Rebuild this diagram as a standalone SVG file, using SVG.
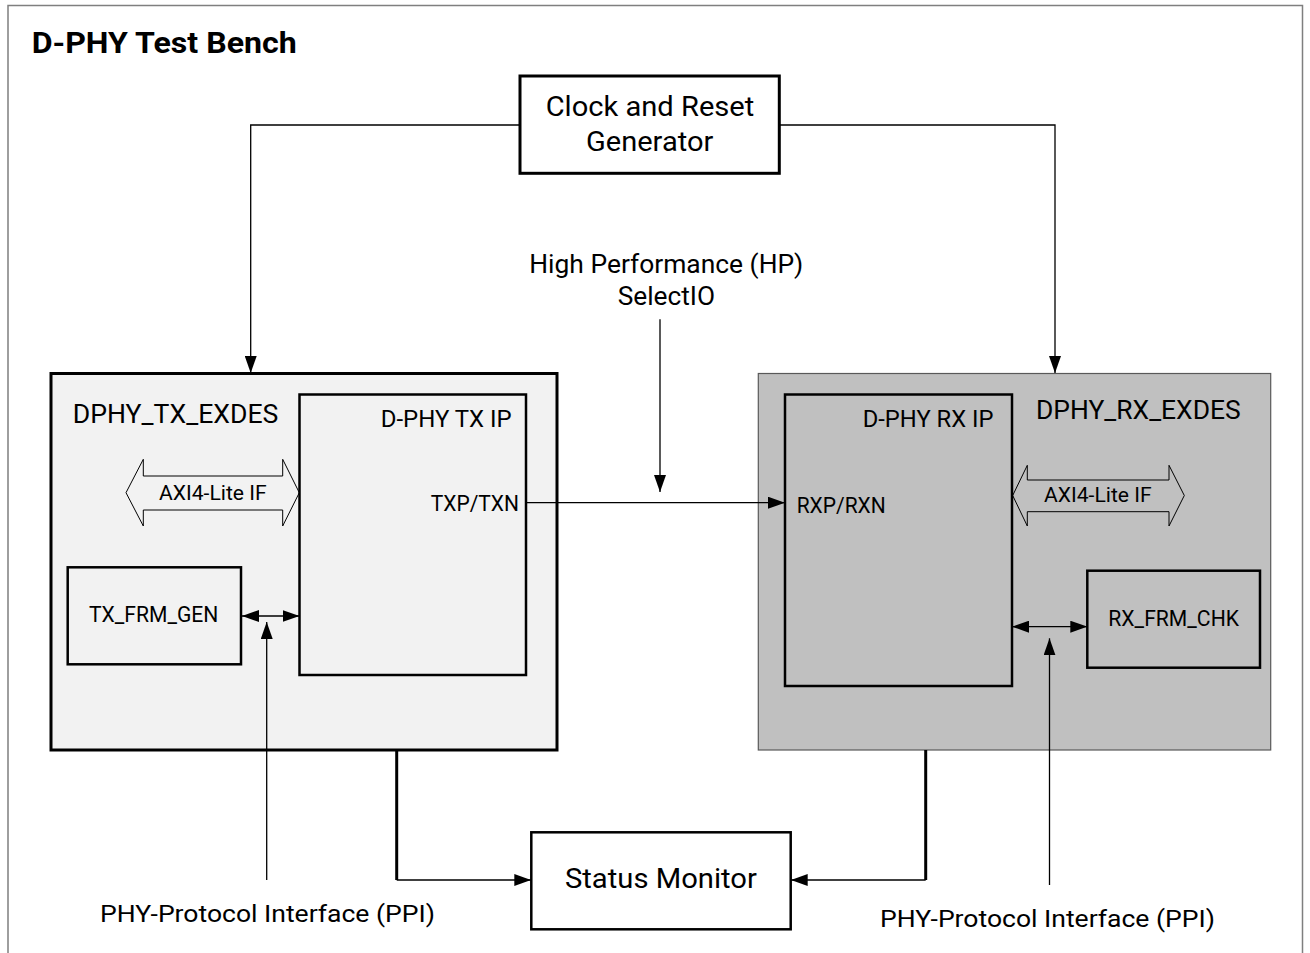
<svg xmlns="http://www.w3.org/2000/svg" width="1310" height="953" viewBox="0 0 1310 953">
<style>
text{font-family:Roboto,"Liberation Sans",sans-serif;fill:#000}
.blk{fill:#fff;stroke:#000;stroke-width:3}
.thin{fill:none;stroke:#000;stroke-width:1.3}
.thick{fill:none;stroke:#000;stroke-width:3}
.bus{fill:none;stroke:#000;stroke-width:1}
.t28{font-size:28.5px}
.t26{font-size:26px}
.t24{font-size:24.4px}
.t22{font-size:22px}
.t21{font-size:21px}
</style>
<defs>
<marker id="ah" markerUnits="userSpaceOnUse" markerWidth="17" markerHeight="12" refX="17" refY="6" orient="auto-start-reverse">
<path d="M0,0 L17,6 L0,12 z" fill="#000"/>
</marker>
</defs>
<rect width="1310" height="953" fill="#fff"/>
<path d="M8,953 V5.5 H1302.5 V953" fill="none" stroke="#7f7f7f" stroke-width="1.5"/>
<text x="31.7" y="53.3" font-size="29.5" font-weight="bold" textLength="265" lengthAdjust="spacingAndGlyphs">D-PHY Test Bench</text>

<g id="tx_exdes">
<rect x="51" y="373.5" width="506" height="376.5" fill="#f2f2f2" stroke="#000" stroke-width="3"/>
<text class="t26" x="72.7" y="422.7" textLength="205.7" lengthAdjust="spacingAndGlyphs">DPHY_TX_EXDES</text>
</g>
<g id="tx_ip">
<rect x="299.5" y="394.5" width="226.5" height="280.5" fill="#f2f2f2" stroke="#000" stroke-width="2.5"/>
<text class="t24" x="380.7" y="426.7" textLength="131" lengthAdjust="spacingAndGlyphs">D-PHY TX IP</text>
<text class="t22" x="430.7" y="511" textLength="88.3" lengthAdjust="spacingAndGlyphs">TXP/TXN</text>
</g>
<g id="tx_axi">
<path class="bus" d="M126,492.7 L143.3,459.3 V476 H282.7 V459.3 L299.3,492.7 L282.7,526 V510 H143.3 V526 Z" fill="#f2f2f2"/>
<text class="t21" x="159" y="500" textLength="107.7" lengthAdjust="spacingAndGlyphs">AXI4-Lite IF</text>
</g>
<g id="tx_frm_gen">
<rect x="67.7" y="567.3" width="173.3" height="97" fill="#f2f2f2" stroke="#000" stroke-width="2.5"/>
<text class="t22" x="89" y="622.3" textLength="129.3" lengthAdjust="spacingAndGlyphs">TX_FRM_GEN</text>
</g>

<g id="rx_exdes">
<rect x="758.3" y="373.5" width="512.4" height="376.5" fill="#c0c0c0" stroke="#595959" stroke-width="1.2"/>
<text class="t26" x="1036" y="418.7" textLength="204.7" lengthAdjust="spacingAndGlyphs">DPHY_RX_EXDES</text>
</g>
<g id="rx_ip">
<rect x="785" y="394.5" width="227" height="291.5" fill="#c0c0c0" stroke="#000" stroke-width="2.5"/>
<text class="t24" x="862.7" y="426.7" textLength="130.7" lengthAdjust="spacingAndGlyphs">D-PHY RX IP</text>
<text class="t22" x="796.7" y="512.7" textLength="89" lengthAdjust="spacingAndGlyphs">RXP/RXN</text>
</g>
<g id="rx_axi">
<path class="bus" d="M1012.7,495.5 L1027.3,465.3 V480 H1169 V465.3 L1184.3,495.5 L1169,526 V511.7 H1027.3 V526 Z" fill="#c0c0c0"/>
<text class="t21" x="1044" y="501.7" textLength="107.7" lengthAdjust="spacingAndGlyphs">AXI4-Lite IF</text>
</g>
<g id="rx_frm_chk">
<rect x="1087.3" y="570.7" width="172.7" height="97" fill="#c0c0c0" stroke="#000" stroke-width="2.5"/>
<text class="t22" x="1108.3" y="625.7" textLength="130.7" lengthAdjust="spacingAndGlyphs">RX_FRM_CHK</text>
</g>

<g id="clock_reset">
<rect class="blk" x="520" y="76" width="259.3" height="97.3"/>
<text class="t28" x="545.7" y="116" textLength="208.6" lengthAdjust="spacingAndGlyphs">Clock and Reset</text>
<text class="t28" x="586" y="150.7" textLength="127.3" lengthAdjust="spacingAndGlyphs">Generator</text>
</g>
<g id="status_monitor">
<rect x="531.3" y="832.3" width="259.4" height="97" fill="#fff" stroke="#000" stroke-width="2.5"/>
<text x="565" y="888.3" font-size="28" textLength="191.8" lengthAdjust="spacingAndGlyphs">Status Monitor</text>
</g>
<g id="labels">
<text x="529.3" y="272.7" font-size="25" textLength="274" lengthAdjust="spacingAndGlyphs">High Performance (HP)</text>
<text x="617.7" y="305" font-size="25" textLength="97.3" lengthAdjust="spacingAndGlyphs">SelectIO</text>
<text class="t24" x="100" y="921.7" textLength="335" lengthAdjust="spacingAndGlyphs">PHY-Protocol Interface (PPI)</text>
<text class="t24" x="880" y="926.7" textLength="335" lengthAdjust="spacingAndGlyphs">PHY-Protocol Interface (PPI)</text>
</g>

<g id="connectors">
<path class="thin" d="M520,125 H250.7 V373" marker-end="url(#ah)"/>
<path class="thin" d="M779.3,125 H1055 V373" marker-end="url(#ah)"/>
<path class="thin" d="M660,319.3 V492" marker-end="url(#ah)"/>
<path class="thin" d="M526,502.7 H785" marker-end="url(#ah)"/>
<path class="thin" d="M242,616 H299.5" marker-start="url(#ah)" marker-end="url(#ah)"/>
<path class="thin" d="M1012,626.7 H1087.3" marker-start="url(#ah)" marker-end="url(#ah)"/>
<path class="thin" d="M266.7,880 V622" marker-end="url(#ah)"/>
<path class="thin" d="M1049.5,885 V638.3" marker-end="url(#ah)"/>
<path class="thick" d="M396.7,750 V880"/>
<path class="thin" d="M396.7,880 H531.3" marker-end="url(#ah)"/>
<path class="thick" d="M925.7,750 V880"/>
<path class="thin" d="M925.7,880 H790.7" marker-end="url(#ah)"/>
</g>
</svg>
